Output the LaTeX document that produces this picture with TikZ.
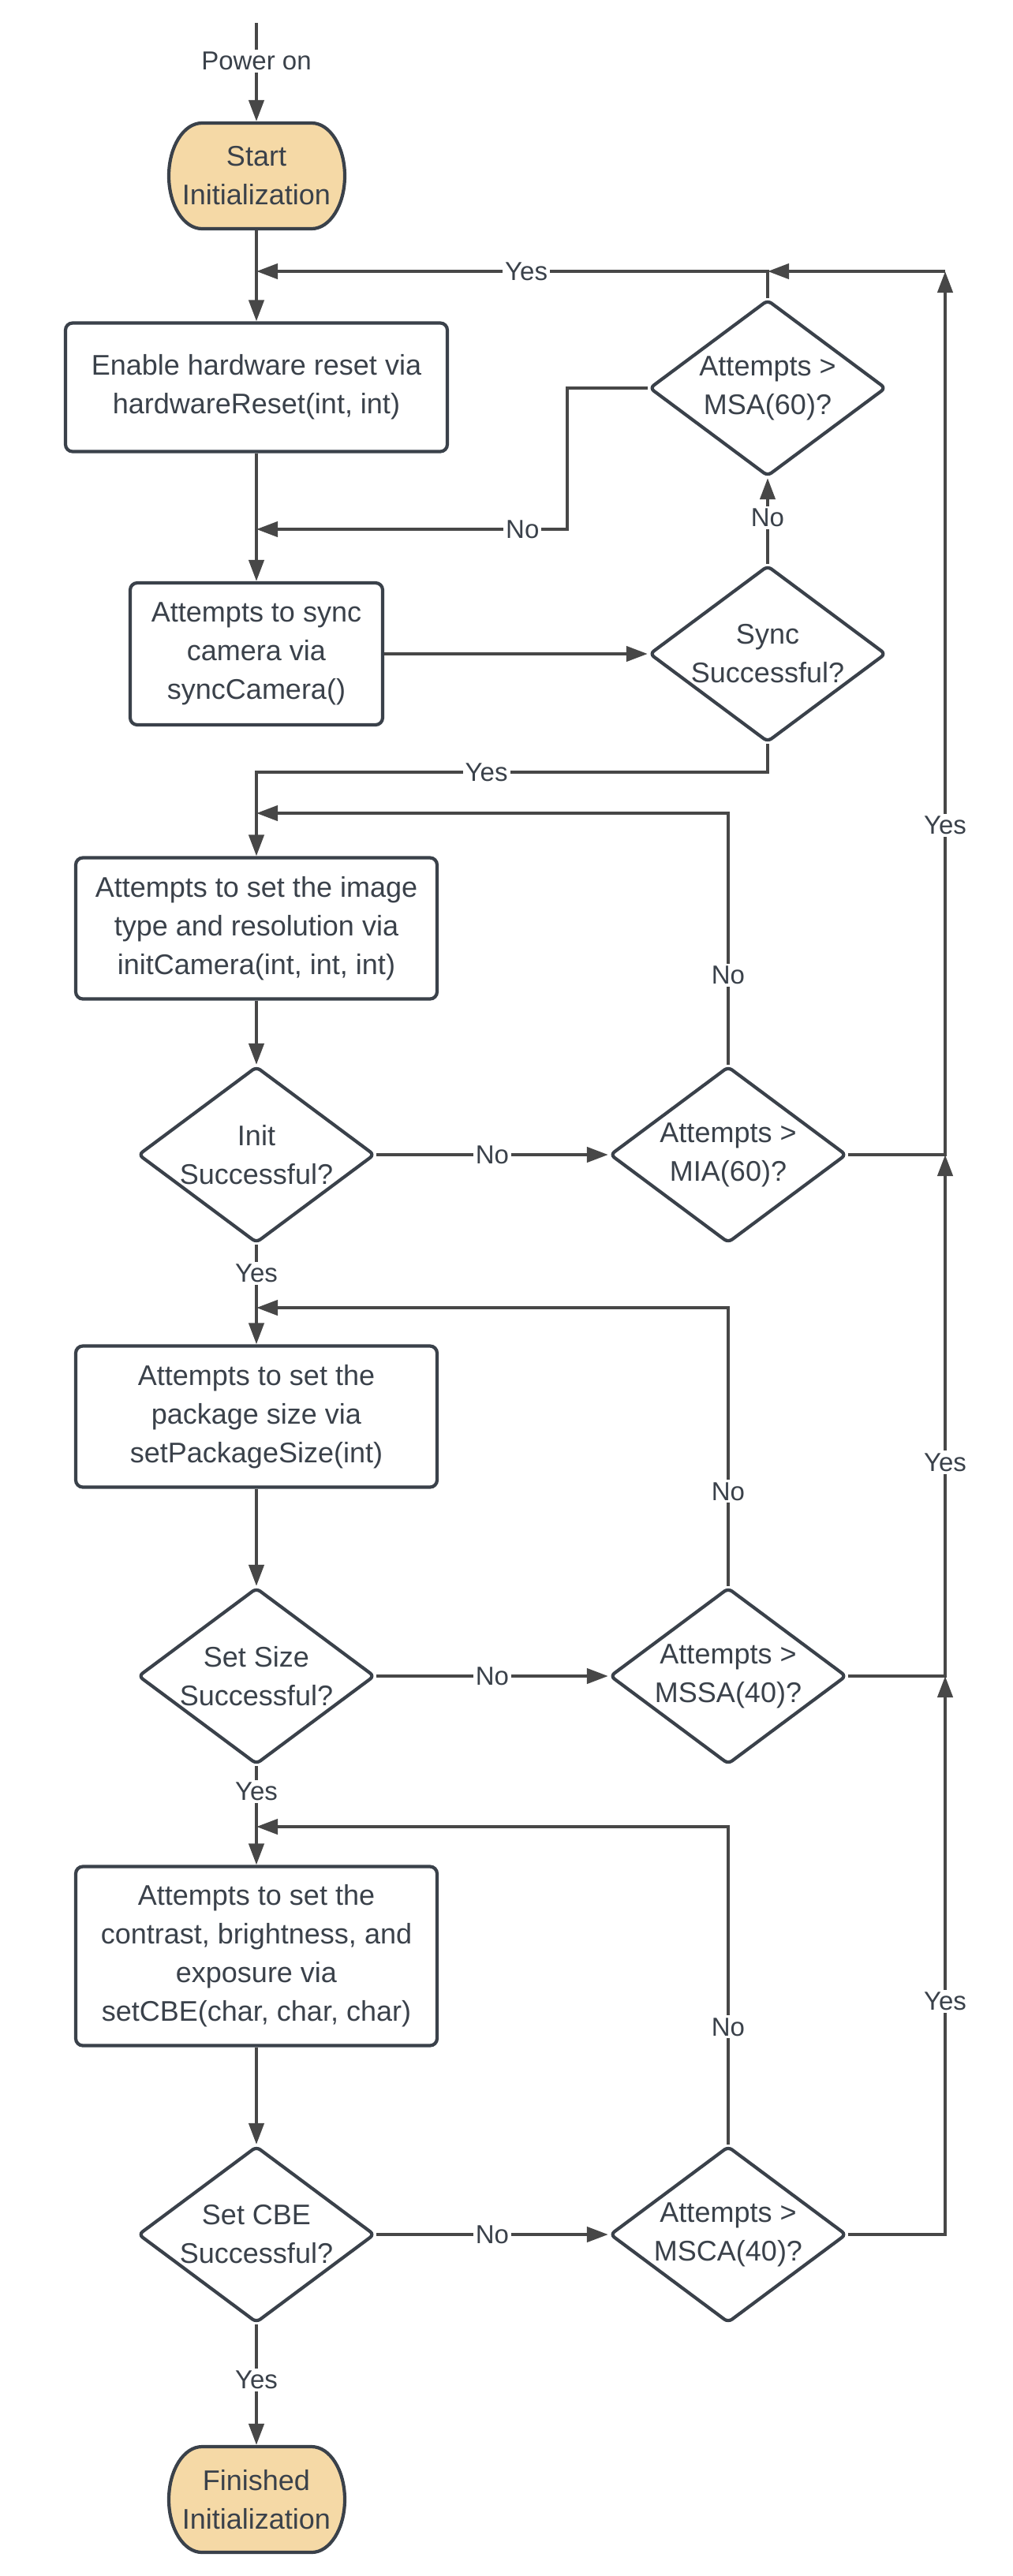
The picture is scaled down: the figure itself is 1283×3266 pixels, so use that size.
\documentclass[tikz,border=0pt]{standalone}
\usepackage{fontspec}
\setmainfont{Liberation Sans}
\usetikzlibrary{arrows.meta,shapes.geometric}
\definecolor{txtgray}{HTML}{3A414A}
\definecolor{linegray}{HTML}{474747}
\definecolor{termfill}{HTML}{F5D9A6}
\begin{document}
\begin{tikzpicture}[x=1pt,y=-1pt,>={Triangle[length=27pt,width=19pt]},line width=4.2pt,
	every node/.style={text=txtgray,font=\fontsize{36}{49}\selectfont},
	term/.style={minimum width=222pt,minimum height=134pt,inner sep=0pt,align=center},
	termline/.style={draw=txtgray,fill=termfill},
	proc/.style={draw=txtgray,fill=white,rounded corners=9pt,inner sep=0pt,align=center},
	dec/.style={diamond,aspect=1.34,draw=txtgray,fill=white,rounded corners=6pt,minimum width=300pt,minimum height=224pt,inner sep=-8pt,align=center},
	lbl/.style={fill=white,inner sep=3pt,font=\fontsize{33}{40}\selectfont},
	link/.style={draw=linegray}]
			\fill[white] (0,0) rectangle (1283,3266);
			\useasboundingbox (0,0) rectangle (1283,3266);
			% terminals
			\draw[termline] (256,156) -- (395,156) arc[start angle=90,end angle=-90,x radius=42pt,y radius=67pt] -- (256,290) arc[start angle=270,end angle=90,x radius=42pt,y radius=67pt] -- cycle;
			\draw[termline] (256,3102) -- (395,3102) arc[start angle=90,end angle=-90,x radius=42pt,y radius=67pt] -- (256,3236) arc[start angle=270,end angle=90,x radius=42pt,y radius=67pt] -- cycle;
			\node[term] (start) at (325,223) {Start\\Initialization};
			\node[term] (finish) at (325,3169) {Finished\\Initialization};
			% main column
			\node[proc,minimum width=484pt,minimum height=163pt] (enable) at (325,491) {Enable hardware reset via\\hardwareReset(int, int)};
			\node[proc,minimum width=320pt,minimum height=180pt] (syncbox) at (325,829) {Attempts to sync\\camera via\\syncCamera()};
			\node[proc,minimum width=458pt,minimum height=179pt] (initcam) at (325,1177) {Attempts to set the image\\type and resolution via\\initCamera(int, int, int)};
			\node[dec] (init) at (325,1464) {Init\\Successful?};
			\node[proc,minimum width=458pt,minimum height=179pt] (pkgbox) at (325,1796) {Attempts to set the\\package size via\\setPackageSize(int)};
			\node[dec] (setsize) at (325,2125) {Set Size\\Successful?};
			\node[proc,minimum width=458pt,minimum height=227pt] (cbebox) at (325,2480) {Attempts to set the\\contrast, brightness, and\\exposure via\\setCBE(char, char, char)};
			\node[dec] (setcbe) at (325,2833) {Set CBE\\Successful?};
			% right column
			\node[dec] (msa) at (973,492) {Attempts >\\MSA(60)?};
			\node[dec] (sync) at (973,829) {Sync\\Successful?};
			\node[dec] (mia) at (923,1464) {Attempts >\\MIA(60)?};
			\node[dec] (mssa) at (923,2125) {Attempts >\\MSSA(40)?};
			\node[dec] (msca) at (923,2833) {Attempts >\\MSCA(40)?};
			% junctions
			\coordinate (pwr) at (325,29);
			\coordinate (jyes) at (325,344);
			\coordinate (jmsa) at (973,344);
			\coordinate (rtop) at (1198,344);
			\coordinate (nobend) at (719,492);
			\coordinate (jno) at (325,671);
			\coordinate (jsync) at (325,979);
			\coordinate (jmia) at (325,1031);
			\coordinate (rmia) at (1198,1464);
			\coordinate (jmssa) at (325,1658);
			\coordinate (rmssa) at (1198,2125);
			\coordinate (jmsca) at (325,2316);
			% connectors
			\draw[link,->] (pwr) -- node[lbl,pos=0.39]{Power on} (start);
			\draw[link,->] (start) -- (enable);
			\draw[link,->] (msa.north) -- (jmsa) -- node[lbl,pos=0.472]{Yes} (jyes);
			\draw[link,->] (rtop) -- (jmsa);
			\draw[link,->] (enable) -- (syncbox);
			\draw[link,->] (msa.west) -- (nobend) |- node[lbl,pos=0.572]{No} (jno);
			\draw[link,->] (syncbox) -- (sync);
			\draw[link,->] (sync) -- node[lbl,pos=0.54]{No} (msa);
			\draw[link,->] (sync.south) |- node[lbl,pos=0.775]{Yes} (jsync) -- (initcam);
			\draw[link,->] (initcam) -- (init);
			\draw[link,->] (init) -- node[lbl]{No} (mia);
			\draw[link,->] (mia.north) |- node[lbl,pos=0.178]{No} (jmia);
			\draw[link,->] (mia.east) -- (rmia) -- node[lbl,pos=0.373]{Yes} (rtop);
			\draw[link,->] (init) -- node[lbl,pos=0.29]{Yes} (pkgbox);
			\draw[link,->] (pkgbox) -- (setsize);
			\draw[link,->] (setsize) -- node[lbl]{No} (mssa);
			\draw[link,->] (mssa.north) |- node[lbl,pos=0.17]{No} (jmssa);
			\draw[link,->] (mssa.east) -- (rmssa) -- node[lbl,pos=0.41]{Yes} (rmia);
			\draw[link,->] (setsize) -- node[lbl,pos=0.26]{Yes} (cbebox);
			\draw[link,->] (cbebox) -- (setcbe);
			\draw[link,->] (setcbe) -- node[lbl]{No} (msca);
			\draw[link,->] (msca.north) |- node[lbl,pos=0.185]{No} (jmsca);
			\draw[link,->] (msca.east) -| node[lbl,pos=0.709]{Yes} (rmssa);
			\draw[link,->] (setcbe) -- node[lbl,pos=0.46]{Yes} (finish);
		\end{tikzpicture}
\end{document}
